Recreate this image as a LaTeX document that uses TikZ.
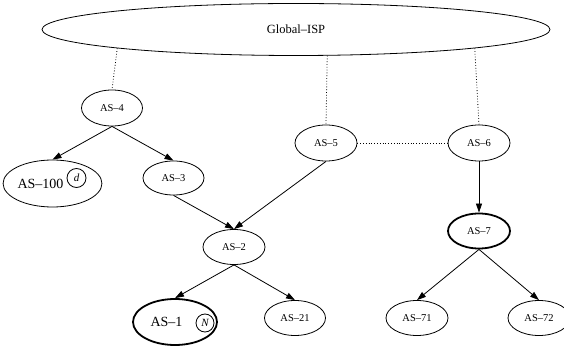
\documentclass[tikz,border=0pt]{standalone}
\usepackage{fontspec}
\setmainfont{Liberation Serif}
\usetikzlibrary{shapes.geometric,arrows.meta}
\begin{document}
\begin{tikzpicture}[x=1pt,y=-1pt,
  asnode/.style={draw,ellipse,inner sep=0pt,line width=0.8pt,minimum width=62pt,minimum height=35pt,font=\fontsize{10.5}{12}\selectfont},
  bignode/.style={asnode,font=\fontsize{14}{16}\selectfont},
  heavy/.style={line width=1.8pt},
  mark circ/.style={draw,circle,inner sep=0pt,line width=0.8pt,minimum size=18pt,font=\fontsize{11}{12}\selectfont\itshape},
  edge/.style={line width=0.8pt,-{Triangle[length=9pt,width=6pt]}},
  peer/.style={line width=0.8pt,dotted}]
\useasboundingbox (0,0) rectangle (564,352);
\begin{scope}
\clip (0,0) rectangle (564,352);
\node[asnode,minimum width=508pt,minimum height=52pt,font=\fontsize{12.5}{14}\selectfont] (G) at (296,29.5) {Global–ISP};
\node[asnode,minimum width=61pt,minimum height=36pt] (AS4) at (112,108) {AS–4};
\node[asnode,minimum height=36pt] (AS5) at (326,143) {AS–5};
\node[asnode,minimum height=36pt] (AS6) at (479,143) {AS–6};
\node[bignode,minimum width=85pt,minimum height=47pt] (AS100) at (52.5,183.5) {AS–100\kern24pt};
\node[mark circ,minimum size=19pt] (d) at (76.5,178) {d};
\node[asnode,minimum width=61pt,minimum height=34pt] (AS3) at (173.5,178) {AS–3};
\node[asnode] (AS2) at (234,247) {AS–2};
\node[asnode,heavy] (AS7) at (479,231) {AS–7};
\node[bignode,heavy,minimum width=84pt,minimum height=46pt] (AS1) at (175,322) {AS–1\kern17pt};
\node[mark circ] (N) at (205,323) {N};
\node[asnode,minimum width=61pt] (AS21) at (295,318) {AS–21};
\node[asnode] (AS71) at (417,318) {AS–71};
\node[asnode] (AS72) at (539,318) {AS–72};
\end{scope}
\draw[peer] (G.-174.5) -- (AS4.north);
\draw[peer] (G.-40.7) -- (AS5.north);
\draw[peer] (G.-6) -- (AS6.north);
\draw[peer] (AS5.east) -- (AS6.west);
\draw[edge] (AS4.south) -- (AS100.north);
\draw[edge] (AS4.south) -- (AS3.north);
\draw[edge] (AS3.south) -- (AS2.north);
\draw[edge] (AS5.south) -- (AS2.north);
\draw[edge] (AS2.south) -- (AS1.north);
\draw[edge] (AS2.south) -- (AS21.north);
\draw[edge] (AS6.south) -- (AS7.north);
\draw[edge] (AS7.south) -- (AS71.north);
\draw[edge] (AS7.south) -- (AS72.north);
\end{tikzpicture}
\end{document}
